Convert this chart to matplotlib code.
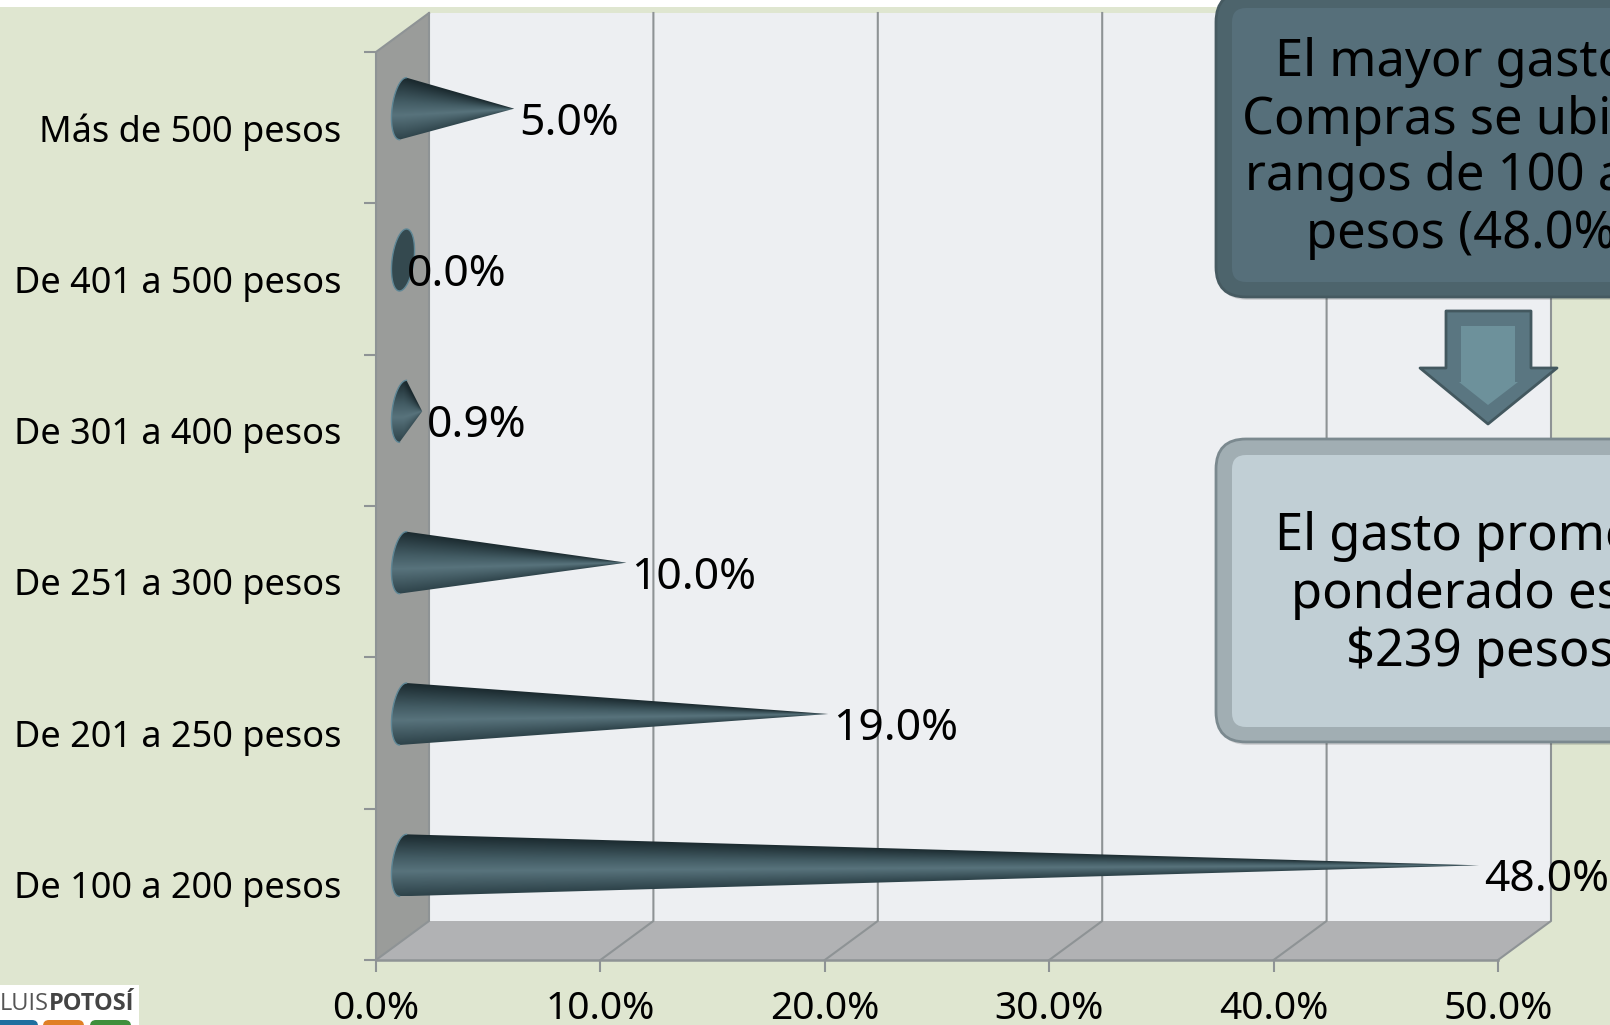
import numpy as np
import matplotlib
matplotlib.use('Agg')
from matplotlib import pyplot as plt
from matplotlib.colors import LinearSegmentedColormap
from matplotlib.patches import FancyBboxPatch, Polygon, Rectangle

categories = ['De 100 a 200 pesos', 'De 201 a 250 pesos', 'De 251 a 300 pesos',
              'De 301 a 400 pesos', 'De 401 a 500 pesos', 'Más de 500 pesos']
values = [48.0, 19.0, 10.0, 0.9, 0.0, 5.0]
xticks = [0, 10, 20, 30, 40, 50]
xticklabels = ['0.0%', '10.0%', '20.0%', '30.0%', '40.0%', '50.0%']
box1_lines = ['El mayor gasto en', 'Compras se ubica en', 'rangos de 100 a 200', 'pesos (48.0%)']
box2_lines = ['El gasto promedio', 'ponderado es de', '$239 pesos']

plt.rcParams['font.family'] = ['Noto Sans', 'DejaVu Sans']
W, H = 1610, 1025
GREEN = '#dfe6d0'
GRID = '#8e9395'

fig = plt.figure(figsize=(W/100, H/100), dpi=100, facecolor=GREEN)
ax = fig.add_axes([376/W, 1-960/H, (1498-376)/W, (960-52)/H])
ax.set_xlim(0, 50)
ax.set_ylim(0, 6)
ax.patch.set_visible(False)
for s in ax.spines.values():
    s.set_visible(False)

sx = (1498-376)/50.0   # px per %
sy = (960-52)/6.0      # px per category
dx = 53/sx
dy = 39/sy

# 3d box
ax.add_patch(Polygon([(dx, dy), (50+dx, dy), (50+dx, 6+dy), (dx, 6+dy)], fc='#edeff2', ec='none', clip_on=False, zorder=1))
ax.add_patch(Polygon([(0, 0), (50, 0), (50+dx, dy), (dx, dy)], fc='#b1b2b4', ec='none', clip_on=False, zorder=1))
ax.add_patch(Polygon([(0, 0), (dx, dy), (dx, 6+dy), (0, 6)], fc='#9a9c9a', ec='none', clip_on=False, zorder=1))
for t in xticks:
    ax.plot([t, t+dx, t+dx], [0, dy, 6+dy], color=GRID, lw=1.5, clip_on=False, zorder=2)
ax.plot([0, 50], [0, 0], color=GRID, lw=1.8, clip_on=False, zorder=2)
ax.plot([0, 0, dx], [0, 6, 6+dy], color=GRID, lw=1.5, clip_on=False, zorder=2)

ax.set_xticks(xticks)
ax.set_xticklabels(xticklabels, fontsize=28)
ax.set_yticks(range(7))
ax.set_yticklabels([])
ax.set_yticks(np.arange(6)+0.5, minor=True)
ax.set_yticklabels(categories, minor=True, fontsize=26)
ax.tick_params(axis='both', which='major', length=8.5, width=1.5, color=GRID)
ax.tick_params(axis='x', pad=13)
ax.tick_params(axis='y', which='minor', length=0, pad=25)

# cones
shade = LinearSegmentedColormap.from_list('cone', [(0, '#2e434a'), (0.4, '#58737c'), (0.62, '#435c64'), (1, '#1b2a2f')])
base_x = 27/sx
tip_x = 26/sx
a = 11/sx
b = 31/sy
lean = 3.5/sx
for i, v in enumerate(values):
    cx = base_x
    cy = i+0.5+19/sy
    tip = v+tip_x
    t = np.linspace(np.pi/2, 3*np.pi/2, 40)
    ex = cx+a*np.cos(t)+lean*np.sin(t)
    ey = cy+b*np.sin(t)
    if v < 0.5:
        t = np.linspace(0, 2*np.pi, 80)
        ax.add_patch(Polygon(np.c_[cx+a*np.cos(t)+lean*np.sin(t), cy+b*np.sin(t)], fc='#34494f', ec='#5f8796', lw=1.0, zorder=3, clip_on=False))
    else:
        outline = Polygon(np.r_[[[tip, cy]], np.c_[ex, ey]], transform=ax.transData, fc='none', ec='none', clip_on=False)
        ax.add_patch(outline)
        xs = np.linspace(cx-a-lean, tip, int((tip-cx+a+lean)*sx*2)+2)
        ys = np.linspace(cy-b, cy+b, 124)
        X, Y = np.meshgrid(xs, ys)
        h = np.clip((tip-X)/(tip-cx), 0.002, 1.0)*b
        u = np.clip((Y-cy)/h, -1, 1)
        im = ax.imshow((u+1)/2, extent=[xs[0], xs[-1], ys[-1], ys[0]], origin='upper', aspect='auto', cmap=shade, vmin=0, vmax=1, zorder=3, clip_on=True)
        im.set_clip_path(outline)
        ax.plot(ex, ey, color='#5f8796', lw=1.0, zorder=4, clip_on=False)
    ax.text(tip+5/sx, i+0.5+4/sy, '%.1f%%' % v, fontsize=32, va='center', ha='left', color='black', zorder=5, clip_on=False)
ax.set_xlim(0, 50)
ax.set_ylim(0, 6)

# callouts, logo
ov = fig.add_axes([0, 0, 1, 1], zorder=10)
ov.set_xlim(0, W)
ov.set_ylim(H, 0)
ov.axis('off')
ov.add_patch(Rectangle((0, 0), W, 7, fc='white', ec='none'))

def box(x0, y0, x1, y1, edge, bevel, inner):
    ov.add_patch(FancyBboxPatch((x0+2, y0+3), x1-x0, y1-y0, boxstyle='round,pad=0,rounding_size=30', fc='black', ec='none', alpha=0.12))
    ov.add_patch(FancyBboxPatch((x0, y0), x1-x0, y1-y0, boxstyle='round,pad=0,rounding_size=30', fc=bevel, ec=edge, lw=2))
    ov.add_patch(FancyBboxPatch((x0+16, y0+16), x1-x0-32, y1-y0-31, boxstyle='round,pad=0,rounding_size=14', fc=inner, ec='none'))

box(1216, -8, 1800, 297, '#465a61', '#4d646c', '#566f7a')
box(1216, 439, 1800, 742, '#7b898f', '#a1aeb3', '#c1cfd5')
ov.add_patch(Polygon([(1446, 311), (1531, 311), (1531, 368), (1557, 368), (1488, 424), (1420, 368), (1446, 368)], fc='#5a7681', ec='#43585f', lw=2, joinstyle='round'))
ov.add_patch(Polygon([(1461, 326), (1515, 326), (1515, 382), (1518, 382), (1488, 405), (1459, 382), (1461, 382)], fc='#6d919b', ec='none'))
for y, line, x in zip([62, 120, 177, 235], box1_lines, [1275, 1242, 1245, 1306]):
    ov.text(x, y, line, fontsize=36.5, ha='left', va='center', color='black', clip_on=True)
for y, line, x in zip([537, 594, 652], box2_lines, [1275, 1291, 1346]):
    ov.text(x, y, line, fontsize=36.5, ha='left', va='center', color='black', clip_on=True)

ov.add_patch(Rectangle((0, 985), 139, 40, fc='white', ec='none'))
ov.text(0, 1010, 'LUIS', fontsize=17, family='Open Sans', color='#555555', va='baseline')
ov.text(49, 1010, 'POTOSÍ', fontsize=17, family='Open Sans', color='#444444', fontweight='bold', va='baseline')
for x0, x1, c in [(-8, 38, '#1f6f9f'), (43, 84, '#e07f25'), (90, 131, '#3f8f3c')]:
    ov.add_patch(FancyBboxPatch((x0, 1020), x1-x0, 20, boxstyle='round,pad=0,rounding_size=6', fc=c, ec='none'))

fig.savefig('out.png', dpi=100, facecolor=GREEN)
